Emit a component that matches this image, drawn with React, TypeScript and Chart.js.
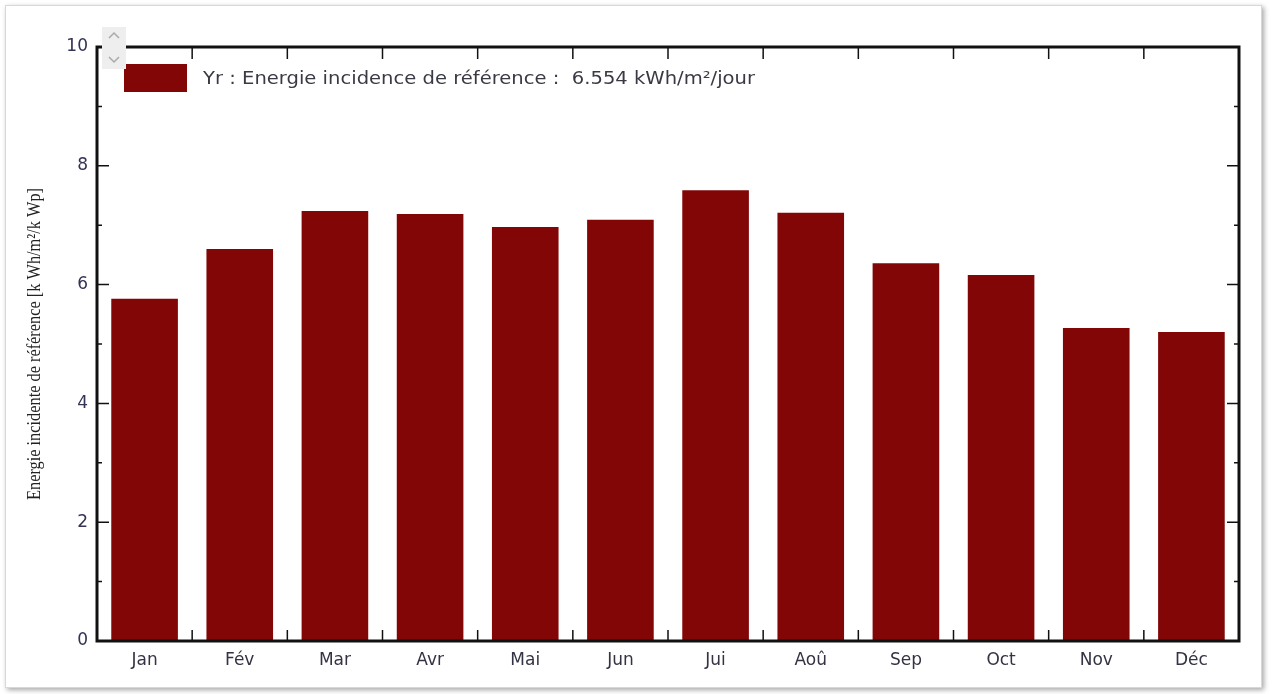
import React, { useEffect, useRef } from "react";
import { Chart, registerables } from "chart.js";

Chart.register(...registerables);

const months = ["Jan", "Fév", "Mar", "Avr", "Mai", "Jun", "Jui", "Aoû", "Sep", "Oct", "Nov", "Déc"];
const yrValues = [5.76, 6.6, 7.24, 7.19, 6.97, 7.09, 7.59, 7.21, 6.36, 6.16, 5.27, 5.2];
const legendLabel = "Yr : Energie incidence de référence :  6.554 kWh/m²/jour";
const yTitle = "Energie incidente de référence [k Wh/m²/k Wp]";
const yMin = 0;
const yMax = 10;

const BAR = "#820606";
const SANS = "'DejaVu Sans', 'Liberation Sans', Arial, sans-serif";

const framePlugin = {
  id: "framePlugin",
  afterDraw(chart: any) {
    const { ctx, chartArea } = chart;
    const { left, right, top, bottom } = chartArea;
    const y = chart.scales.y;
    const x = chart.scales.x;
    ctx.save();
    ctx.strokeStyle = "#111";
    ctx.lineWidth = 1.5;
    for (let v = yMin + 1; v < yMax; v++) {
      const py = y.getPixelForValue(v);
      const len = v % 2 === 0 ? 12 : 5;
      ctx.beginPath();
      ctx.moveTo(left, py);
      ctx.lineTo(left + len, py);
      ctx.moveTo(right, py);
      ctx.lineTo(right - len, py);
      ctx.stroke();
    }
    for (let i = 1; i < months.length; i++) {
      const px = (x.getPixelForValue(i - 1) + x.getPixelForValue(i)) / 2;
      ctx.beginPath();
      ctx.moveTo(px, bottom);
      ctx.lineTo(px, bottom - 11);
      ctx.moveTo(px, top);
      ctx.lineTo(px, top + 12);
      ctx.stroke();
    }
    ctx.lineWidth = 3;
    ctx.strokeRect(left, top, right - left, bottom - top);

    // legend
    ctx.fillStyle = BAR;
    ctx.fillRect(left + 27, top + 17, 63, 28);
    ctx.save();
    ctx.fillStyle = "#3a3a44";
    ctx.font = "17px " + SANS;
    ctx.textBaseline = "middle";
    ctx.textAlign = "left";
    const w = ctx.measureText(legendLabel).width;
    ctx.translate(left + 106, top + 33);
    ctx.scale(552 / w, 1);
    ctx.fillText(legendLabel, 0, 0);
    ctx.restore();

    // y title
    ctx.save();
    ctx.translate(35, (top + bottom) / 2);
    ctx.rotate(-Math.PI / 2);
    ctx.font = "19px 'Liberation Serif', 'Times New Roman', serif";
    const tw = ctx.measureText(yTitle).width;
    ctx.scale(312 / tw, 1);
    ctx.fillStyle = "#222";
    ctx.textAlign = "center";
    ctx.textBaseline = "middle";
    ctx.fillText(yTitle, 0, 0);
    ctx.restore();

    // spinner widget
    ctx.fillStyle = "#eeeeee";
    ctx.fillRect(left + 5, top - 20, 24, 42);
    ctx.strokeStyle = "#aaaaaa";
    ctx.lineWidth = 1.5;
    ctx.beginPath();
    ctx.moveTo(left + 12, top - 9);
    ctx.lineTo(left + 17, top - 14);
    ctx.lineTo(left + 22, top - 9);
    ctx.moveTo(left + 12, top + 10);
    ctx.lineTo(left + 17, top + 15);
    ctx.lineTo(left + 22, top + 10);
    ctx.stroke();
    ctx.restore();
  },
};

export default function App() {
  const ref = useRef<HTMLCanvasElement | null>(null);
  useEffect(() => {
    if (!ref.current) return;
    const chart = new Chart(ref.current, {
      type: "bar",
      data: {
        labels: months,
        datasets: [
          {
            label: legendLabel,
            data: yrValues,
            backgroundColor: BAR,
            borderWidth: 0,
            categoryPercentage: 1,
            barPercentage: 0.7,
          },
        ],
      },
      options: {
        animation: false,
        responsive: false,
        maintainAspectRatio: false,
        layout: { padding: { top: 47, right: 33, left: 0, bottom: 0 } },
        plugins: { legend: { display: false }, tooltip: { enabled: false } },
        scales: {
          x: {
            grid: { display: false, drawTicks: false },
            border: { display: false },
            ticks: {
              padding: 9,
              color: "#333344",
              font: { family: SANS, size: 17 },
            },
            afterFit: (s: any) => {
              s.height = 53;
            },
          },
          y: {
            min: yMin,
            max: yMax,
            grid: { display: false, drawTicks: false },
            border: { display: false },
            ticks: {
              stepSize: 2,
              padding: 9,
              color: "#333355",
              font: { family: SANS, size: 17 },
            },
            afterFit: (s: any) => {
              s.width = 97;
            },
          },
        },
      },
      plugins: [framePlugin],
    });
    return () => chart.destroy();
  }, []);
  return (
    <div style={{ position: "fixed", left: 0, top: 0, width: 1272, height: 694, background: "#fff" }}>
      <div
        style={{
          position: "absolute",
          left: 5,
          top: 5,
          width: 1255,
          height: 681,
          border: "1px solid #d8d8d8",
          boxShadow: "2px 2px 5px rgba(0,0,0,0.35)",
          background: "#fff",
        }}
      />
      <canvas ref={ref} width={1272} height={694} style={{ position: "absolute", left: 0, top: 0 }} />
    </div>
  );
}
